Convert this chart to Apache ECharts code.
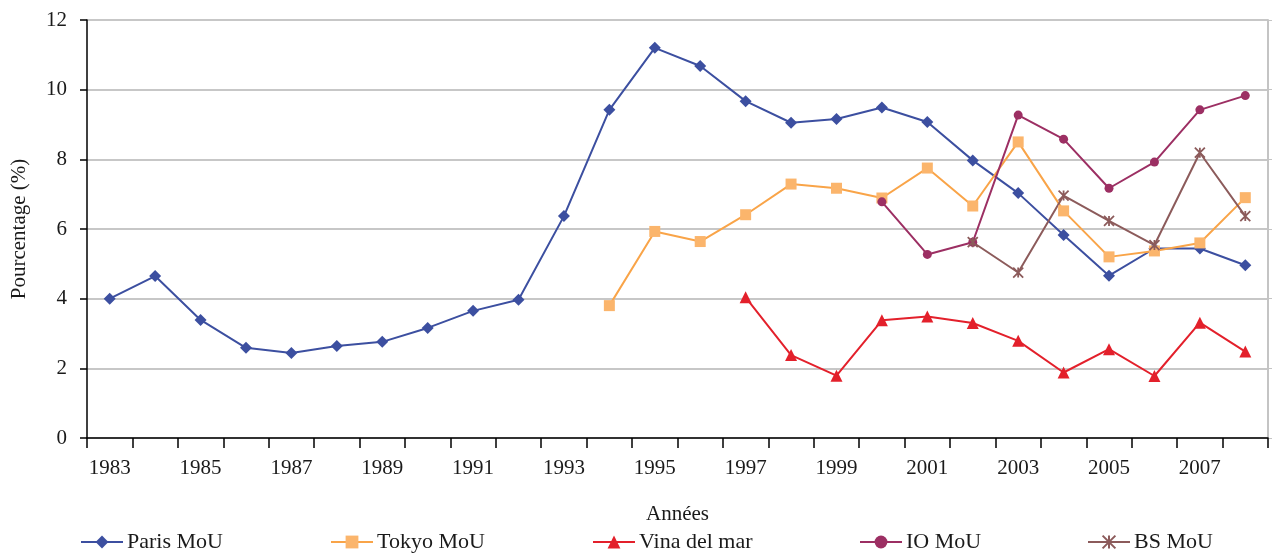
<!DOCTYPE html>
<html>
<head>
<meta charset="utf-8">
<script src="https://cdn.jsdelivr.net/npm/echarts@6/dist/echarts.min.js"></script>
<style>
  html, body { margin: 0; padding: 0; background: #fff; }
  #chart { width: 1276px; height: 556px; }
</style>
</head>
<body>
<div id="chart"></div>
<script>
const years = ['1983', '1984', '1985', '1986', '1987', '1988', '1989', '1990', '1991', '1992',
  '1993', '1994', '1995', '1996', '1997', '1998', '1999', '2000', '2001', '2002',
  '2003', '2004', '2005', '2006', '2007', '2008']

const parisMou = [4.0, 4.65, 3.39, 2.59, 2.44, 2.64, 2.76, 3.16, 3.65, 3.97,
  6.37, 9.42, 11.2, 10.68, 9.67, 9.05, 9.16, 9.49, 9.07, 7.97,
  7.03, 5.83, 4.66, 5.44, 5.44, 4.96]
const tokyoMou = [null, null, null, null, null, null, null, null, null, null,
  null, 3.8, 5.93, 5.64, 6.41, 7.29, 7.17, 6.89, 7.75, 6.66,
  8.5, 6.52, 5.2, 5.37, 5.6, 6.9]
const vinaDelMar = [null, null, null, null, null, null, null, null, null, null,
  null, null, null, null, 4.04, 2.38, 1.79, 3.38, 3.49, 3.3,
  2.79, 1.88, 2.55, 1.78, 3.31, 2.48]
const ioMou = [null, null, null, null, null, null, null, null, null, null,
  null, null, null, null, null, null, null, 6.78, 5.27, 5.62,
  9.27, 8.58, 7.17, 7.92, 9.42, 9.83]
const bsMou = [null, null, null, null, null, null, null, null, null, null,
  null, null, null, null, null, null, null, null, null, 5.62,
  4.75, 6.96, 6.23, 5.54, 8.19, 6.37]

const yTicks = { min: 0, max: 12, interval: 2 }

const font = 'Liberation Serif, DejaVu Serif, serif'
const textColor = '#1a1a1a'
const starPath = 'path://M0,0L10,10M10,0L0,10M5,0L5,10'

const chart = echarts.init(document.getElementById('chart'))

const legendAt = (name, left) => ({
  data: [name],
  left: left,
  top: 531,
  padding: 0,
  itemWidth: 42,
  itemHeight: 16,
  itemGap: 6,
  textStyle: { fontFamily: font, fontSize: 22, color: textColor, padding: [0, 0, 0, -1] }
})

const lineSeries = (name, data, color, symbol, size, extra) => Object.assign({
  name: name,
  type: 'line',
  data: data,
  symbol: symbol,
  symbolSize: size,
  connectNulls: false,
  lineStyle: { color: color, width: 2 },
  itemStyle: { color: color },
  emphasis: { disabled: true }
}, extra || {})

chart.setOption({
  animation: false,
  textStyle: { fontFamily: font },
  legend: [
    legendAt('Paris MoU', 80),
    legendAt('Tokyo MoU', 330),
    legendAt('Vina del mar', 592),
    legendAt('IO MoU', 859),
    legendAt('BS MoU', 1087)
  ],
  grid: { left: 87, right: 8, top: 20, bottom: 118 },
  xAxis: {
    type: 'category',
    data: years,
    boundaryGap: true,
    name: 'Années',
    nameLocation: 'middle',
    nameGap: 66,
    nameTextStyle: { fontFamily: font, fontSize: 21, color: textColor },
    axisLine: { lineStyle: { color: '#000', width: 1.5 } },
    axisTick: { show: true, interval: 0, length: 10, lineStyle: { color: '#000', width: 1.5 } },
    axisLabel: { interval: 1, margin: 20, fontFamily: font, fontSize: 21, color: textColor }
  },
  yAxis: [{
    type: 'value',
    min: yTicks.min,
    max: yTicks.max,
    interval: yTicks.interval,
    name: 'Pourcentage (%)',
    nameLocation: 'middle',
    nameGap: 57,
    nameTextStyle: { fontFamily: font, fontSize: 21, color: textColor },
    axisLine: { show: true, lineStyle: { color: '#000', width: 1.5 } },
    axisTick: { show: true, length: 7, lineStyle: { color: '#000', width: 1.5 } },
    axisLabel: { margin: 20, fontFamily: font, fontSize: 21, color: textColor },
    splitLine: { lineStyle: { color: '#b4b4b4', width: 1.5 } }
  }, {
    type: 'value',
    position: 'right',
    min: yTicks.min,
    max: yTicks.max,
    interval: yTicks.interval,
    axisLine: { show: true, lineStyle: { color: '#c4c4c4', width: 2 } },
    axisTick: { show: true, length: 4, lineStyle: { color: '#c4c4c4' } },
    axisLabel: { show: false },
    splitLine: { show: false }
  }],
  series: [
    lineSeries('Paris MoU', parisMou, '#3c4fa0', 'diamond', 12),
    lineSeries('Tokyo MoU', tokyoMou, '#f9a448', 'rect', 11, { itemStyle: { color: '#fbb56c' } }),
    lineSeries('Vina del mar', vinaDelMar, '#e3202b', 'triangle', 12),
    lineSeries('IO MoU', ioMou, '#9c2f63', 'circle', 9),
    lineSeries('BS MoU', bsMou, '#8c5b5b', starPath, 10, {
      itemStyle: { color: '#8c5b5b', borderColor: '#8c5b5b', borderWidth: 1.8 }
    })
  ]
})
</script>
</body>
</html>
